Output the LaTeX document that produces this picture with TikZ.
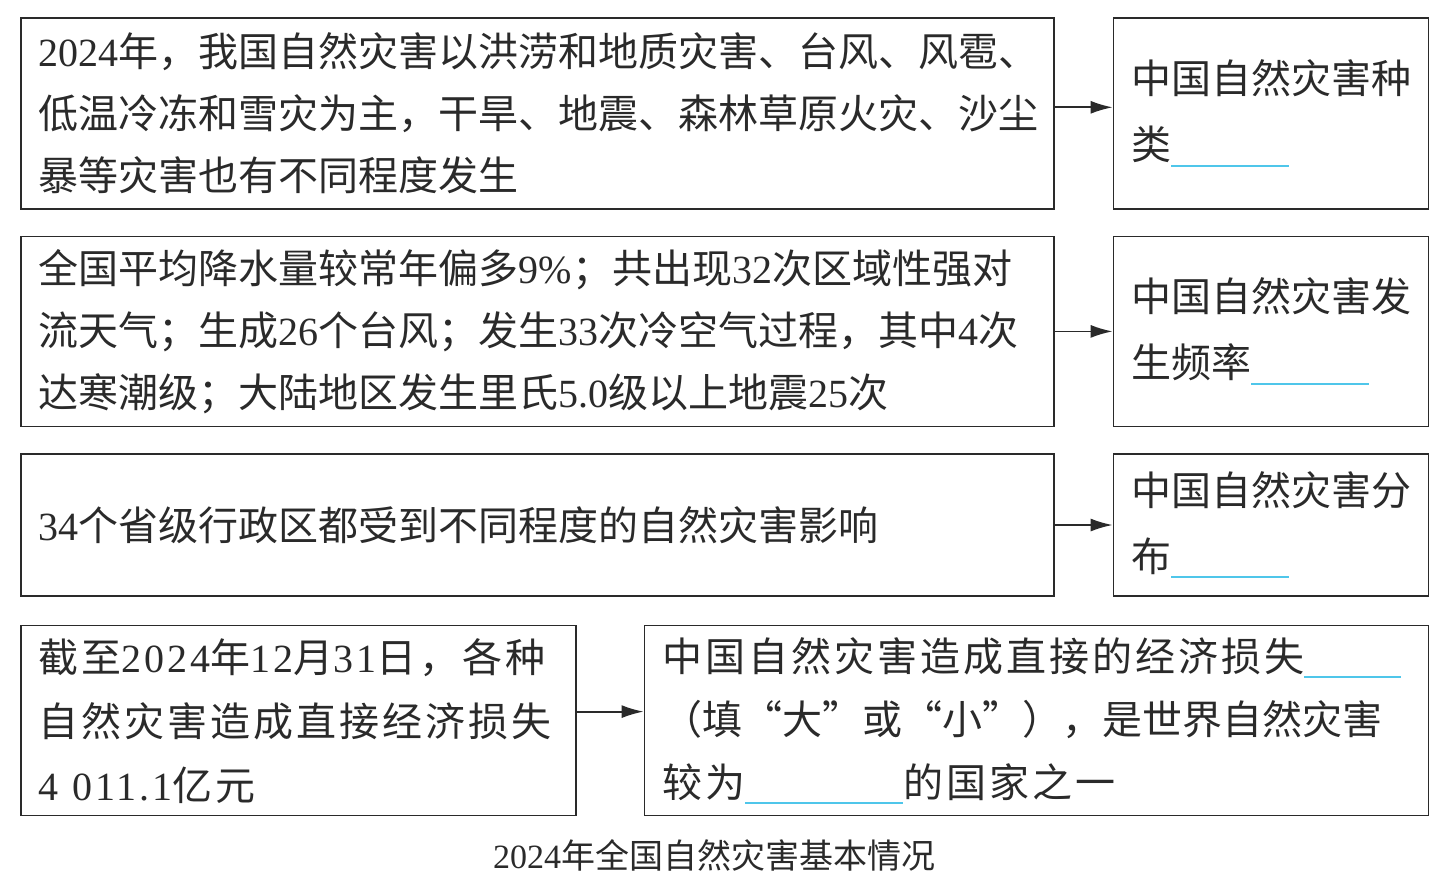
\documentclass[tikz,border=0pt]{standalone}
\usepackage{fontspec}
\usepackage{xcolor}
\setmainfont{Noto Sans CJK SC}
\newfontfamily\latn{Liberation Serif}
\newfontfamily\latnwide[LetterSpace=7.5]{Liberation Serif}
\newfontfamily\cjkwide[LetterSpace=7.5]{Noto Sans CJK SC}
\usetikzlibrary{positioning, arrows.meta}
\definecolor{inkgray}{HTML}{2A2A2A}
\definecolor{blankcyan}{HTML}{4FC6EA}
\newcommand{\blank}[1]{{\color{blankcyan}\rule[-3.5pt]{#1}{1pt}}}

\begin{document}
\begin{tikzpicture}[
			factbox/.style={rectangle, draw=inkgray, line width=0.8pt, minimum width=516.5pt, text width=498.5pt, inner xsep=9pt, inner ysep=0pt, align=left, text=inkgray, font=\fontsize{20pt}{31pt}\selectfont},
			askbox/.style={rectangle, draw=inkgray, line width=0.8pt, minimum width=157.5pt, text width=139.5pt, inner xsep=9pt, inner ysep=0pt, align=left, text=inkgray, font=\fontsize{20pt}{33pt}\selectfont},
			arrow/.style={draw=inkgray, line width=0.9pt, -{Latex[length=11pt, width=6.5pt]}}
			]
			\useasboundingbox (0,0) rectangle (719pt,-442.5pt);
			% Left column
			\node (t1) [factbox, minimum height=95.5pt, anchor=north west] at (10pt,-8.5pt) {{\latn 2024}年，我国自然灾害以洪涝和地质灾害、台风、风雹、\\低温冷冻和雪灾为主，干旱、地震、森林草原火灾、沙尘\\暴等灾害也有不同程度发生};
			\node (t2) [factbox, minimum height=95pt, below=13pt of t1] {全国平均降水量较常年偏多{\latn 9\%}；共出现{\latn 32}次区域性强对\\流天气；生成{\latn 26}个台风；发生{\latn 33}次冷空气过程，其中{\latn 4}次\\达寒潮级；大陆地区发生里氏{\latn 5.0}级以上地震{\latn 25}次};
			\node (t3) [factbox, minimum height=71pt, below=13pt of t2] {{\latn 34}个省级行政区都受到不同程度的自然灾害影响};
			\node (t4) [factbox, minimum width=277.5pt, text width=259.5pt, minimum height=95pt, font=\fontsize{20pt}{32pt}\cjkwide, below=14pt of t3.south west, anchor=north west] {截至{\latnwide 2024}年{\latnwide 12}月{\latnwide 31}日，各种\\自然灾害造成直接经济损失\\{\latnwide 4 011.1}亿元};
			
			% Right column
			\node (r1) [askbox, minimum height=95.5pt, right=29pt of t1] {中国自然灾害种\\类\blank{59pt}};
			\node (r2) [askbox, minimum height=95pt, right=29pt of t2] {中国自然灾害发\\生频率\blank{59pt}};
			\node (r3) [askbox, minimum height=71pt, right=29pt of t3] {中国自然灾害分\\布\blank{59pt}};
			\node (r4) [askbox, minimum width=392pt, text width=374pt, minimum height=95pt, font=\fontsize{20pt}{31.5pt}\cjkwide, right=33.5pt of t4] {中国自然灾害造成直接的经济损失\blank{48.5pt}\\{\rmfamily（填“大”或“小”），是世界自然灾害}\\较为\blank{79pt}的国家之一};
			
			% Caption
			\node (cap) [text=inkgray, font=\fontsize{17pt}{20pt}\selectfont] at (357pt,-427.5pt) {{\latn 2024}年全国自然灾害基本情况};
			
			% Arrows
			\draw [arrow] ([yshift=3pt]t1.east) -- ([yshift=3pt]r1.west);
			\draw [arrow] (t2) -- (r2);
			\draw [arrow] (t3) -- (r3);
			\draw [arrow] ([yshift=4.5pt]t4.east) -- ([yshift=4.5pt]r4.west);
		\end{tikzpicture}
\end{document}
